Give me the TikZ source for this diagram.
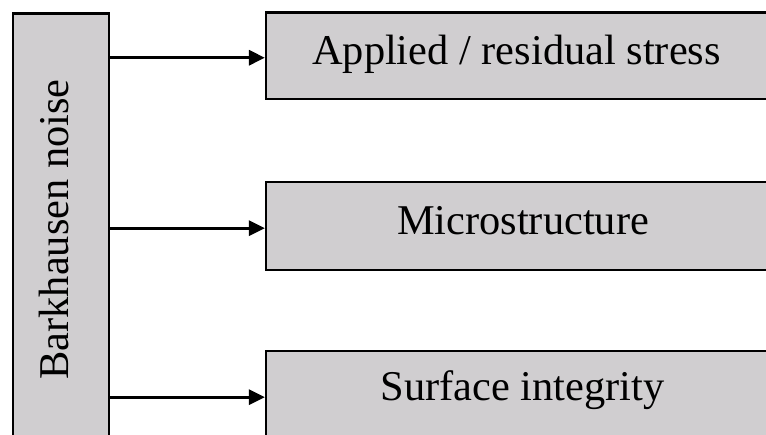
\documentclass[tikz,border=0pt]{standalone}
\usepackage{fontspec}
\setmainfont{Liberation Serif}
\usetikzlibrary{arrows.meta}
\definecolor{boxgray}{RGB}{208,206,208}
\tikzset{
  box/.style={draw=black, line width=2.2pt, fill=boxgray, rectangle, inner sep=0pt},
  lbl/.style={font=\fontsize{42.4}{50}\selectfont, inner sep=0pt, anchor=base},
  arr/.style={line width=3pt, -{Triangle[length=16pt,width=15pt]}},
}
\begin{document}
\begin{tikzpicture}[x=1pt,y=-1pt]
\useasboundingbox (0,0) rectangle (766,435);
\clip (0,0) rectangle (766,435);
\node[box, minimum width=95.7pt, minimum height=431.5pt] (left) at (61.2,229.25) {};
\node[box, minimum width=502pt, minimum height=86.5pt] (b1) at (517,55.75) {};
\node[box, minimum width=502pt, minimum height=87.7pt] (b2) at (517,226.15) {};
\node[box, minimum width=502pt, minimum height=87.7pt] (b3) at (517,395.15) {};
\node[lbl, rotate=90] (tl) at (68,229.4) {Barkhausen noise};
\node[lbl] (t1) at (516.5,65) {Applied / residual stress};
\node[lbl] (t2) at (523,235) {Microstructure};
\node[lbl] (t3) at (522.5,401) {Surface integrity};
\draw[arr] ([yshift=-2pt]b1.west -| left.east) -- ([yshift=-2pt]b1.west);
\draw[arr] ([yshift=-2pt]b2.west -| left.east) -- ([yshift=-2pt]b2.west);
\draw[arr] ([yshift=-2pt]b3.west -| left.east) -- ([yshift=-2pt]b3.west);
\end{tikzpicture}
\end{document}
